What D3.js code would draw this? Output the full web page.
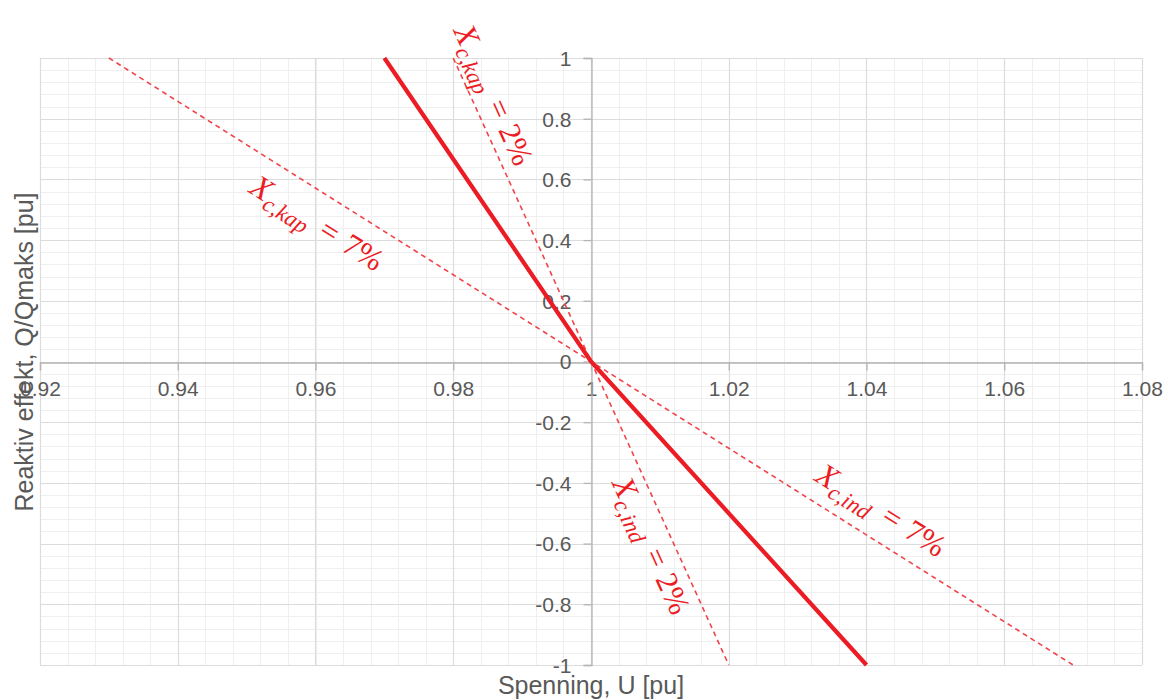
<!DOCTYPE html>
<html>
<head>
<meta charset="utf-8">
<script src="https://cdn.jsdelivr.net/npm/d3@7/dist/d3.min.js"></script>
<style>
  html, body { margin: 0; padding: 0; background: #ffffff; }
  svg { display: block; }
</style>
</head>
<body>
<svg id="chart" width="1168" height="700"></svg>
<script>
// ---------------- data ----------------
const xTickValues = [0.92, 0.94, 0.96, 0.98, 1.00, 1.02, 1.04, 1.06, 1.08];
const xTickLabels = ["0.92", "0.94", "0.96", "0.98", "1", "1.02", "1.04", "1.06", "1.08"];
const yTickValues = [-1, -0.8, -0.6, -0.4, -0.2, 0, 0.2, 0.4, 0.6, 0.8, 1];
const yTickLabels = ["-1", "-0.8", "-0.6", "-0.4", "-0.2", "0", "0.2", "0.4", "0.6", "0.8", "1"];

// Droop characteristic (solid)
const mainU = [0.97, 1.00, 1.04];
const mainQ = [1, 0, -1];
// Xc = 2 % limits (dashed)
const xc2U = [0.98, 1.00, 1.02];
const xc2Q = [1, 0, -1];
// Xc = 7 % limits (dashed)
const xc7U = [0.93, 1.00, 1.07];
const xc7Q = [1, 0, -1];

// annotations
const annNames = ["c,kap", "c,kap", "c,ind", "c,ind"];
const annValues = ["2%", "7%", "2%", "7%"];
const annU = [0.9858, 0.9602, 1.0087, 1.0421];
const annQ = [0.878, 0.455, -0.607, -0.491];
const annLine = ["xc2", "xc7", "xc2", "xc7"];
const annSeg = [0, 0, 1, 1];

// ---------------- layout ----------------
const svg = d3.select("#chart");
const mLeft = 40, mRight = 1142, mTop = 58, mBottom = 665;
const x = d3.scaleLinear().domain([0.92, 1.08]).range([mLeft, mRight]);
const y = d3.scaleLinear().domain([-1, 1]).range([mBottom, mTop]);

const red = "#ec1c24";
const dashRed = "#f2434a";
const labelFont = "'Liberation Sans', Arial, sans-serif";
const textGrey = "#595959";

// minor grid
const minorX = d3.range(0, 41).map(i => 0.92 + i * 0.004);
const minorY = d3.range(0, 51).map(i => -1 + i * 0.04);
const g = svg.append("g");
g.selectAll(".mx").data(minorX).join("line")
  .attr("x1", d => Math.round(x(d)) + 0.5).attr("x2", d => Math.round(x(d)) + 0.5)
  .attr("y1", mTop).attr("y2", mBottom)
  .attr("stroke", "#efefef").attr("stroke-width", 1);
g.selectAll(".my").data(minorY).join("line")
  .attr("y1", d => Math.round(y(d)) + 0.5).attr("y2", d => Math.round(y(d)) + 0.5)
  .attr("x1", mLeft).attr("x2", mRight)
  .attr("stroke", "#efefef").attr("stroke-width", 1);
// major grid
g.selectAll(".Mx").data(xTickValues).join("line")
  .attr("x1", d => Math.round(x(d)) + 0.5).attr("x2", d => Math.round(x(d)) + 0.5)
  .attr("y1", mTop).attr("y2", mBottom)
  .attr("stroke", "#dcdcdc").attr("stroke-width", 1.2);
g.selectAll(".My").data(yTickValues).join("line")
  .attr("y1", d => Math.round(y(d)) + 0.5).attr("y2", d => Math.round(y(d)) + 0.5)
  .attr("x1", mLeft).attr("x2", mRight)
  .attr("stroke", "#dcdcdc").attr("stroke-width", 1.2);

// axes through origin (U = 1, Q = 0)
const axisColor = "#b4b4b4";
const xAxis = d3.axisBottom(x).tickValues(xTickValues)
  .tickFormat((d, i) => xTickLabels[i]).tickSize(8).tickPadding(8);
const yAxis = d3.axisLeft(y).tickValues(yTickValues)
  .tickFormat((d, i) => yTickLabels[i]).tickSize(8).tickPadding(12);

const gx = svg.append("g").attr("transform", `translate(0,${Math.round(y(0)) + 0.5})`).call(xAxis);
const gy = svg.append("g").attr("transform", `translate(${Math.round(x(1)) + 0.5},0)`).call(yAxis);
[gx, gy].forEach(a => {
  a.select(".domain").attr("stroke", axisColor).attr("stroke-width", 1.3);
  a.selectAll(".tick line").attr("stroke", axisColor).attr("stroke-width", 1.3);
  a.selectAll(".tick text").attr("fill", textGrey)
    .style("font-family", labelFont).style("font-size", "21px");
});
gx.selectAll(".tick text").attr("dy", "0.85em");
gy.selectAll(".tick text").attr("dy", "0.35em");

// lines
const line = d3.line().x(d => x(d[0])).y(d => y(d[1]));
const toPts = (us, qs) => us.map((u, i) => [u, qs[i]]);
const series = {
  xc2: toPts(xc2U, xc2Q),
  xc7: toPts(xc7U, xc7Q),
  main: toPts(mainU, mainQ)
};
svg.append("path").attr("d", line(series.xc7)).attr("fill", "none")
  .attr("stroke", dashRed).attr("stroke-width", 1.6).attr("stroke-dasharray", "5,4");
svg.append("path").attr("d", line(series.xc2)).attr("fill", "none")
  .attr("stroke", dashRed).attr("stroke-width", 1.6).attr("stroke-dasharray", "5,4");
svg.append("path").attr("d", line(series.main)).attr("fill", "none")
  .attr("stroke", red).attr("stroke-width", 4.2).attr("stroke-linecap", "butt");

// annotations
const mathFont = "'Liberation Serif', 'Times New Roman', serif";
annNames.forEach((name, i) => {
  const pts = series[annLine[i]];
  const s = annSeg[i];
  const p0 = pts[s], p1 = pts[s + 1];
  const ang = Math.atan2(y(p1[1]) - y(p0[1]), x(p1[0]) - x(p0[0])) * 180 / Math.PI;
  const cx = x(annU[i]), cy = y(annQ[i]);
  const t = svg.append("text")
    .attr("transform", `translate(${cx},${cy}) rotate(${ang})`)
    .attr("text-anchor", "middle")
    .attr("fill", red)
    .style("font-family", mathFont)
    .attr("y", 10);
  t.append("tspan").text("X").style("font-style", "italic").style("font-size", "32px");
  t.append("tspan").text(name).style("font-style", "italic").style("font-size", "23px")
    .attr("dy", 7).attr("dx", 0);
  t.append("tspan").text("=").style("font-size", "31px").attr("dy", -7).attr("dx", 13);
  t.append("tspan").text(annValues[i]).style("font-size", "31px").attr("dx", 10);
});

// axis titles
svg.append("text")
  .attr("x", x(1)).attr("y", 694)
  .attr("text-anchor", "middle").attr("fill", textGrey)
  .style("font-family", labelFont).style("font-size", "25px")
  .text("Spenning, U [pu]");
svg.append("text")
  .attr("transform", `translate(33,352) rotate(-90)`)
  .attr("text-anchor", "middle").attr("fill", textGrey)
  .style("font-family", labelFont).style("font-size", "25px")
  .text("Reaktiv effekt, Q/Qmaks [pu]");
</script>
</body>
</html>
